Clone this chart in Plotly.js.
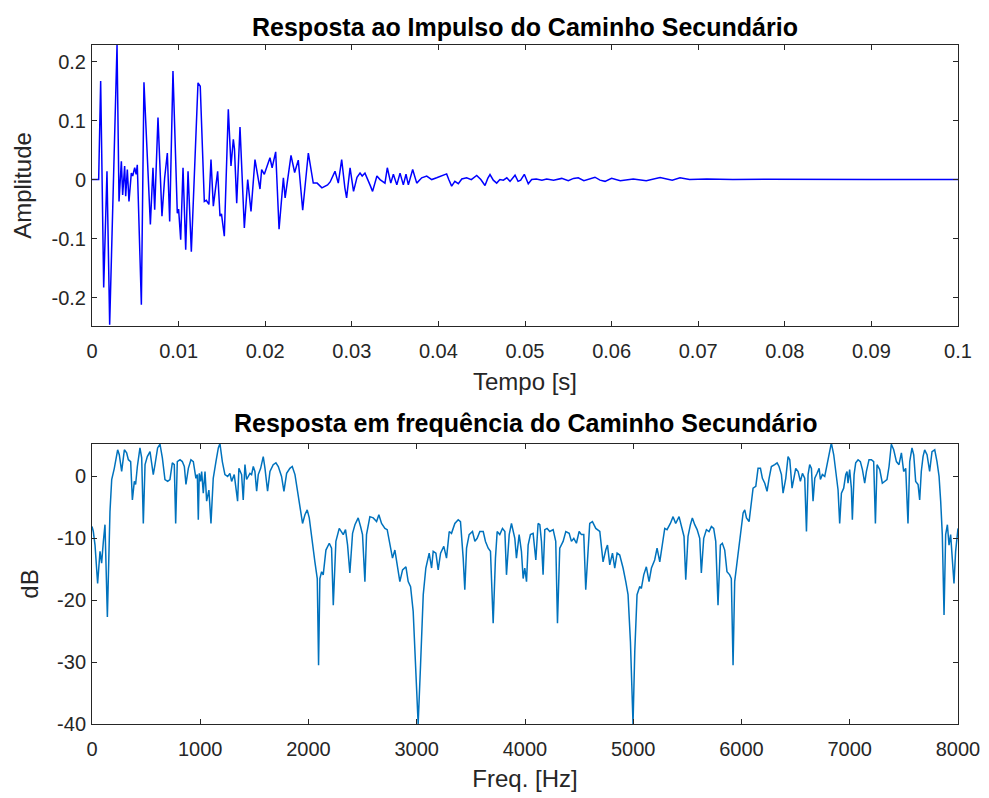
<!DOCTYPE html>
<html>
<head>
<meta charset="utf-8">
<script src="https://cdn.plot.ly/plotly-3.0.1.min.js"></script>
<style>html,body{margin:0;padding:0;background:#fff;}#chart{width:989px;height:798px;}</style>
</head>
<body>
<div id="chart"></div>
<script>
// ---- Impulse response (time in s, amplitude) ----
const impT = [
  0, 0.0004, 0.00077, 0.00100, 0.00135, 0.00173, 0.00204, 0.00289, 0.00312, 0.00339,
  0.00354, 0.00377, 0.00389, 0.00408, 0.00427, 0.00454, 0.00470, 0.00493, 0.00510, 0.00523,
  0.00570, 0.00600, 0.00674, 0.00704, 0.00724, 0.00762, 0.00808, 0.00839, 0.00870, 0.00897,
  0.00935, 0.00985, 0.01000, 0.01024, 0.01051, 0.01082, 0.01109, 0.01147, 0.01224, 0.01250,
  0.01297, 0.01320, 0.01350, 0.01374, 0.01401, 0.01451, 0.01478, 0.01495, 0.01528, 0.01574,
  0.01605, 0.01632, 0.01645, 0.01671, 0.01709, 0.01759, 0.01798, 0.01836, 0.01882, 0.01940,
  0.01959, 0.01990, 0.02055, 0.02080, 0.02121, 0.02160, 0.02210, 0.02230, 0.02298, 0.02340,
  0.02382, 0.02433, 0.02498, 0.02555, 0.02600, 0.02655, 0.02720, 0.02750, 0.02787, 0.02806,
  0.02844, 0.02883, 0.02920, 0.02940, 0.02980, 0.03020, 0.03060, 0.03095, 0.03120, 0.03152,
  0.03210, 0.03240, 0.03290, 0.03326, 0.03383, 0.03410, 0.03450, 0.03480, 0.03520, 0.03557,
  0.03595, 0.03626, 0.03653, 0.03703, 0.03750, 0.03807, 0.03865, 0.03923, 0.03980, 0.04038,
  0.04095, 0.04120, 0.04153, 0.04190, 0.04230, 0.04270, 0.04326, 0.04380, 0.04442, 0.04490,
  0.04538, 0.04570, 0.04596, 0.04634, 0.04673, 0.04710, 0.04750, 0.04790, 0.04827, 0.04885,
  0.04920, 0.04950, 0.04992, 0.05038, 0.05077, 0.05130, 0.05196, 0.05250, 0.05330, 0.05424,
  0.05500, 0.05560, 0.05615, 0.05680, 0.05760, 0.05808, 0.05866, 0.05924, 0.06000, 0.06100,
  0.06250, 0.06400, 0.06560, 0.06700, 0.06790, 0.06900, 0.07100, 0.07400, 0.07800, 0.08200,
  0.08600, 0.09000, 0.09500, 0.10000
];
const impA = [
  0, 0, 0, 0.167, -0.183, 0.014, -0.246, 0.228, -0.037, 0.031,
  -0.026, 0.023, -0.028, 0.017, -0.037, 0.011, 0.006, 0.020, 0.009, 0.025,
  -0.212, 0.165, -0.076, 0.020, -0.051, 0.105, -0.062, 0.003, 0.045, -0.071,
  0.184, -0.057, -0.050, -0.102, 0.020, -0.119, 0.014, -0.122, 0.164, 0.158,
  -0.037, -0.035, -0.042, 0.034, -0.045, 0.014, -0.062, -0.058, -0.096, 0.119,
  0.023, 0.068, 0.052, -0.040, 0.089, -0.082, 0.000, -0.054, 0.034, -0.016,
  0.017, 0.009, 0.037, 0.020, 0.047, -0.084, 0.003, -0.031, 0.041, 0.012,
  0.033, -0.052, 0.045, -0.006, -0.006, -0.014, -0.009, -0.004, 0.008, 0.014,
  -0.006, 0.034, -0.014, -0.031, 0.020, -0.020, 0.004, 0.011, 0.006, 0.011,
  -0.009, -0.020, 0.006, 0.000, -0.006, 0.020, -0.006, 0.009, -0.009, 0.011,
  -0.009, 0.009, -0.009, 0.017, -0.006, 0.003, 0.006, 0.000, 0.003, 0.006,
  0.0096, 0.000, -0.011, -0.003, -0.007, 0.001, 0.003, 0.000, 0.007, 0.000,
  -0.010, 0.002, 0.0085, -0.001, -0.006, 0.000, -0.001, 0.003, -0.003, 0.0075,
  -0.003, -0.001, 0.009, -0.007, 0.000, 0.001, -0.001, 0.001, -0.001, 0.002,
  -0.002, 0.002, 0.003, -0.002, 0.001, 0.004, -0.001, -0.003, 0.002, -0.002,
  0.001, -0.002, 0.0035, -0.001, 0.003, 0.000, 0.001, 0.000, 0.0005, 0.000,
  0.0005, 0.000, 0.000, 0.000
];

// ---- Frequency response (Hz, dB) ----
const freqHz = [
  0, 12, 28, 52, 74, 89, 105, 120, 142, 166, 182, 206, 237, 252, 274, 299, 320, 336, 357, 373,
  391, 403, 419, 443, 459, 474, 490, 511, 536, 566, 582, 606, 628, 650, 674, 699, 720, 742, 760, 773,
  788, 813, 834, 853, 868, 890, 914, 936, 960, 973, 982, 991, 1003, 1013, 1028, 1044, 1059, 1080, 1099, 1120,
  1145, 1167, 1182, 1204, 1228, 1253, 1274, 1290, 1314, 1345, 1357, 1382, 1397, 1413, 1428, 1444, 1459, 1474, 1490, 1505,
  1521, 1536, 1558, 1582, 1598, 1622, 1644, 1674, 1699, 1721, 1751, 1773, 1798, 1828, 1850, 1875, 1899, 1915,
  1945, 1967, 1988, 2007, 2028, 2059, 2081, 2093, 2105, 2121, 2136, 2161, 2192, 2213, 2229, 2253, 2284, 2305, 2321, 2342,
  2361, 2382, 2407, 2429, 2459, 2481, 2499, 2521, 2536, 2567, 2598, 2629, 2650, 2675, 2706, 2727, 2752, 2776, 2798, 2819,
  2844, 2869, 2900, 2921, 2943, 2967, 2992, 3013, 3035, 3060, 3084, 3115, 3137, 3152, 3177, 3198, 3220, 3250, 3275, 3300,
  3321, 3352, 3383, 3404, 3429, 3444, 3460, 3484, 3515, 3537, 3558, 3583, 3614, 3635, 3660, 3681, 3706, 3727, 3743, 3767,
  3792, 3814, 3829, 3854, 3875, 3906, 3921, 3946,
  3967, 3983, 3998, 4014, 4029, 4050, 4075, 4100, 4121, 4137, 4152, 4167, 4183, 4204, 4229, 4260, 4284, 4300, 4321, 4352,
  4377, 4408, 4429, 4451, 4475, 4500, 4521, 4543, 4561, 4577, 4598, 4623, 4654, 4691, 4721, 4746, 4762, 4783, 4808, 4829,
  4851, 4875, 4906, 4931, 4952, 4974, 4998, 5014, 5035, 5060, 5075, 5097, 5121, 5146, 5168, 5198, 5220, 5245, 5269, 5291,
  5312, 5343, 5368, 5392, 5423, 5454, 5469, 5485, 5506, 5528, 5546, 5568, 5590, 5614, 5629, 5651, 5676, 5700, 5722, 5743,
  5762, 5783, 5805, 5823, 5845, 5866, 5891, 5906, 5922, 5937, 5959, 5983,
  6015, 6030, 6046, 6070, 6092, 6107, 6132, 6153, 6175, 6193, 6215, 6236, 6255, 6276, 6307, 6329, 6347, 6369, 6384, 6409,
  6430, 6446, 6467, 6483, 6501, 6523, 6544, 6563, 6584, 6600, 6615, 6630, 6646, 6661, 6677, 6698, 6717, 6729, 6747, 6769,
  6790, 6809, 6830, 6852, 6870, 6892, 6907, 6923, 6944, 6963, 6975, 6984, 6999, 7015, 7024, 7040, 7055, 7077, 7098, 7117,
  7138, 7154, 7178, 7200, 7221, 7237, 7252, 7277, 7301, 7323, 7344, 7363, 7384, 7406, 7431, 7455, 7477, 7498, 7517, 7538,
  7554, 7575, 7591, 7609, 7631, 7646, 7661, 7677, 7692, 7714, 7738, 7760, 7785, 7806, 7825, 7840, 7855, 7871, 7886, 7902,
  7917, 7932, 7948, 7963, 7978, 7994, 8000
];
const magDb = [
  -8.1, -8.9, -11.1, -17.3, -12.1, -14.0, -10.5, -7.8, -22.7, -5.7, -0.5, 1.3, 4.3, 3.5, 0.8, 4.3, 3.8, 2.7, 2.4, -3.8,
  -0.8, -1.3, 1.6, 4.6, 3.0, -7.6, 1.9, 3.2, 4.0, 0.3, 1.9, 4.6, 5.2, 3.0, -0.5, -0.8, -0.5, 2.2, 1.9, -7.6,
  2.4, 2.7, 2.4, 1.6, -1.3, 1.3, 2.7, 2.4, -0.3, 0.3, -7.0, 0.5, -0.8, 0.8, -2.7, 0.8, -4.0, -2.2, -7.6, -0.3,
  2.4, 4.6, 5.3, 2.4, 0.3, 0.0, 0.5, -0.8, 0.3, -4.0, 1.3, 0.3, -3.8, 1.9, -0.5, 0.0, 0.5, 0.3, 1.6, 0.8,
  -2.4, 0.3, 1.3, 3.2, 1.3, -2.4, 0.8, 1.9, 2.2, 1.6, 0.0, -2.4, 0.5, 1.3, 1.6, 0.3, -2.2, -3.8,
  -7.6, -6.2, -5.4, -6.7, -10.0, -13.8, -16.5, -30.5, -16.5, -15.4, -15.9, -11.9, -10.8, -11.6, -20.8, -10.5, -8.4, -8.9, -9.4, -8.6,
  -11.1, -15.6, -9.2, -7.8, -6.7, -8.1, -9.4, -17.0, -9.4, -6.5, -6.7, -7.3, -6.2, -7.6, -8.4, -8.6, -11.3, -13.2, -11.9, -14.0,
  -17.0, -15.1, -14.6, -17.0, -17.8, -21.8, -30.5, -40.0, -30.5, -19.1, -14.8, -12.4, -14.8, -12.1, -12.4, -15.1, -12.4, -11.3, -13.2, -8.9,
  -9.2, -7.6, -7.0, -7.3, -13.2, -18.3, -11.6, -9.4, -8.9, -10.5, -10.0, -8.9, -8.9, -10.5, -11.6, -12.1, -23.7, -13.2, -8.9, -9.4,
  -8.4, -8.9, -15.9, -9.4, -7.6, -10.0, -13.2, -9.4,
  -12.1, -16.5, -14.8, -17.0, -11.1, -9.4, -9.2, -13.5, -7.6, -7.8, -10.5, -15.9, -8.6, -8.4, -8.9, -8.6, -10.5, -23.7, -11.6, -10.5,
  -8.9, -9.2, -10.5, -10.0, -10.8, -8.9, -9.4, -9.4, -18.3, -12.7, -7.6, -7.3, -8.4, -8.9, -13.8, -11.9, -11.1, -14.3, -12.4, -14.8,
  -12.4, -12.7, -14.8, -17.0, -19.1, -26.7, -40.0, -28.3, -19.1, -17.8, -18.1, -15.9, -14.6, -17.0, -14.8, -13.5, -11.6, -13.8, -10.5, -8.4,
  -8.6, -7.6, -6.5, -7.6, -6.5, -8.4, -9.7, -16.7, -9.7, -7.8, -6.7, -7.8, -8.6, -10.0, -15.6, -10.0, -8.6, -8.9, -8.1, -8.4,
  -10.5, -20.8, -11.1, -10.8, -11.9, -15.4, -15.9, -16.5, -30.5, -17.0, -13.8, -10.0,
  -5.9, -5.4, -6.7, -7.3, -4.0, -1.9, -1.6, 1.3, 1.3, -0.3, -1.1, -2.4, -0.3, 1.6, 1.9, 2.2, 1.6, 0.3, -2.7, -0.3,
  3.2, 2.7, -1.9, -0.3, 1.3, 0.8, -0.8, 0.5, -0.3, -8.9, 0.3, 1.9, 1.3, -4.0, -0.3, 0.5, 1.3, -0.5, 0.3, 0.0,
  1.9, 4.0, 5.4, 3.5, 1.3, -2.2, -7.6, -2.7, -1.9, 0.3, 0.8, -1.1, 1.1, -1.9, -7.0, 0.3, 2.2, 2.7, 2.4, 1.1,
  -1.1, 0.8, 2.7, 2.7, 2.4, -7.6, 1.9, 1.1, -1.1, -0.8, -0.5, 1.6, 5.2, 4.3, 2.4, 1.9, 3.8, 0.8, 1.3, -7.6,
  2.4, 4.6, 3.5, -0.8, -1.3, -3.8, 0.8, 3.2, 4.3, 3.5, 0.8, 4.0, 4.3, 2.4, 0.0, -4.0, -9.4, -22.4, -9.4, -7.8,
  -11.1, -9.4, -13.8, -17.3, -12.1, -8.9, -8.4
];

// ---- Ticks ----
const tTickVals = [0, 0.01, 0.02, 0.03, 0.04, 0.05, 0.06, 0.07, 0.08, 0.09, 0.1];
const tTickText = ['0', '0.01', '0.02', '0.03', '0.04', '0.05', '0.06', '0.07', '0.08', '0.09', '0.1'];
const aTickVals = [-0.2, -0.1, 0, 0.1, 0.2];
const aTickText = ['-0.2', '-0.1', '0', '0.1', '0.2'];
const fTickVals = [0, 1000, 2000, 3000, 4000, 5000, 6000, 7000, 8000];
const fTickText = ['0', '1000', '2000', '3000', '4000', '5000', '6000', '7000', '8000'];
const dbTickVals = [-40, -30, -20, -10, 0];
const dbTickText = ['-40', '-30', '-20', '-10', '0'];

const FONT = 'Liberation Sans, Arial, Helvetica, sans-serif';
const AX = '#262626';

function axisBase(standoff) {
  return {
    showline: true, linecolor: AX, linewidth: 1, mirror: 'ticks',
    ticks: 'inside', ticklen: 5, tickwidth: 1, tickcolor: AX,
    showgrid: false, zeroline: false, tickmode: 'array',
    tickfont: {family: FONT, size: 20, color: AX},
    ticklabelstandoff: standoff
  };
}

const traces = [
  {x: impT, y: impA, xaxis: 'x', yaxis: 'y', type: 'scatter', mode: 'lines',
   line: {color: '#0000ff', width: 1.5}, hoverinfo: 'skip'},
  {x: freqHz, y: magDb, xaxis: 'x2', yaxis: 'y2', type: 'scatter', mode: 'lines',
   line: {color: '#0072bd', width: 1.5}, hoverinfo: 'skip'}
];

const layout = {
  width: 989, height: 798,
  margin: {l: 92, r: 31, t: 45, b: 74},
  paper_bgcolor: '#ffffff', plot_bgcolor: '#ffffff',
  showlegend: false,
  font: {family: FONT, color: AX},
  xaxis: Object.assign(axisBase(7), {
    domain: [0, 1], anchor: 'y', range: [0, 0.1],
    tickvals: tTickVals, ticktext: tTickText,
    title: {text: 'Tempo [s]', font: {family: FONT, size: 24, color: AX}, standoff: 12}
  }),
  yaxis: Object.assign(axisBase(1), {
    domain: [0.5862, 1], anchor: 'x', range: [-0.248, 0.228],
    tickvals: aTickVals, ticktext: aTickText,
    title: {text: 'Amplitude', font: {family: FONT, size: 24, color: AX}, standoff: 13}
  }),
  xaxis2: Object.assign(axisBase(7), {
    domain: [0, 1], anchor: 'y2', range: [0, 8000],
    tickvals: fTickVals, ticktext: fTickText,
    title: {text: 'Freq. [Hz]', font: {family: FONT, size: 24, color: AX}, standoff: 11}
  }),
  yaxis2: Object.assign(axisBase(1), {
    domain: [0, 0.4124], anchor: 'x2', range: [-40, 5.24],
    tickvals: dbTickVals, ticktext: dbTickText,
    title: {text: 'dB', font: {family: FONT, size: 24, color: AX}, standoff: 11}
  }),
  annotations: [
    {text: '<b>Resposta ao Impulso do Caminho Secundário</b>', xref: 'paper', yref: 'paper',
     x: 0.5, y: 1.0265, xanchor: 'center', yanchor: 'middle', showarrow: false,
     font: {family: FONT, size: 25, color: '#000000'}},
    {text: '<b>Resposta em frequência do Caminho Secundário</b>', xref: 'paper', yref: 'paper',
     x: 0.5, y: 0.4433, xanchor: 'center', yanchor: 'middle', showarrow: false,
     font: {family: FONT, size: 25, color: '#000000'}}
  ]
};

Plotly.newPlot('chart', traces, layout, {displayModeBar: false, staticPlot: true});
</script>
</body>
</html>
